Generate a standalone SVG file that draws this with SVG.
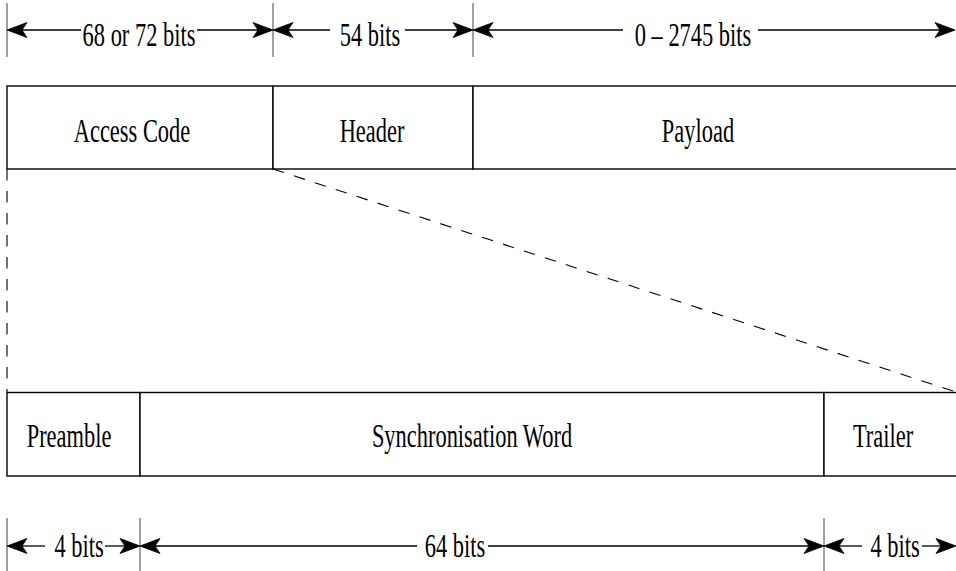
<svg xmlns="http://www.w3.org/2000/svg" width="956" height="571" viewBox="0 0 956 571">
<style>
.box{fill:#fff;stroke:#000;stroke-width:1.4}
.lbl{font-family:"Liberation Serif","Times New Roman",serif;font-size:33px;fill:#000;text-anchor:middle}
.dim{stroke:#000;stroke-width:1.3;fill:none}
.tick{stroke:#444;stroke-width:1}
.dash{stroke:#000;stroke-width:1.1;stroke-dasharray:11.5 10.5;fill:none}
.ah{fill:#000;stroke:#000;stroke-width:0.8;stroke-linejoin:miter}
</style>
<defs>
<path id="ahr" class="ah" d="M0,0 L-20,-7.5 L-15,0 L-20,7.5 Z"/>
<path id="ahl" class="ah" d="M0,0 L20,-7.5 L15,0 L20,7.5 Z"/>
</defs>
<g id="access-code">
<rect class="box" x="7" y="86" width="266" height="83"/>
<text class="lbl" transform="translate(132,142) scale(0.68,1)">Access Code</text>
</g>
<g id="header">
<rect class="box" x="273" y="86" width="200" height="83"/>
<text class="lbl" transform="translate(372,142) scale(0.68,1)">Header</text>
</g>
<g id="payload">
<rect class="box" x="473" y="86" width="500" height="83"/>
<text class="lbl" transform="translate(698,142) scale(0.68,1)">Payload</text>
</g>
<g id="preamble">
<rect class="box" x="7" y="392.5" width="133" height="83.5"/>
<text class="lbl" transform="translate(69,447) scale(0.68,1)">Preamble</text>
</g>
<g id="sync-word">
<rect class="box" x="140" y="392.5" width="684" height="83.5"/>
<text class="lbl" transform="translate(472,447) scale(0.68,1)">Synchronisation Word</text>
</g>
<g id="trailer">
<rect class="box" x="824" y="392.5" width="150" height="83.5"/>
<text class="lbl" transform="translate(883,447) scale(0.68,1)">Trailer</text>
</g>
<g id="connectors">
<path class="dash" d="M7,169 L7,392"/>
<path class="dash" d="M273,169 L956,392"/>
<line class="tick" x1="7" y1="3" x2="7" y2="57"/>
<line class="tick" x1="273" y1="3" x2="273" y2="57"/>
<line class="tick" x1="473" y1="3" x2="473" y2="57"/>
<line class="dim" x1="81" y1="30" x2="20" y2="30"/>
<line class="dim" x1="197" y1="30" x2="260" y2="30"/>
<line class="dim" x1="330" y1="30" x2="286" y2="30"/>
<line class="dim" x1="405" y1="30" x2="460" y2="30"/>
<line class="dim" x1="623" y1="30" x2="486" y2="30"/>
<line class="dim" x1="758" y1="30" x2="942" y2="30"/>
<use href="#ahl" x="7" y="30"/>
<use href="#ahr" x="273" y="30"/>
<use href="#ahl" x="273" y="30"/>
<use href="#ahr" x="473" y="30"/>
<use href="#ahl" x="473" y="30"/>
<use href="#ahr" x="955" y="30"/>
<line class="tick" x1="7" y1="518" x2="7" y2="571"/>
<line class="tick" x1="140" y1="518" x2="140" y2="571"/>
<line class="tick" x1="824" y1="518" x2="824" y2="571"/>
<line class="dim" x1="45" y1="546" x2="20" y2="546"/>
<line class="dim" x1="105" y1="546" x2="127" y2="546"/>
<line class="dim" x1="417" y1="546" x2="153" y2="546"/>
<line class="dim" x1="488" y1="546" x2="811" y2="546"/>
<line class="dim" x1="862" y1="546" x2="837" y2="546"/>
<line class="dim" x1="922" y1="546" x2="943" y2="546"/>
<use href="#ahl" x="7" y="546"/>
<use href="#ahr" x="140" y="546"/>
<use href="#ahl" x="140" y="546"/>
<use href="#ahr" x="824" y="546"/>
<use href="#ahl" x="824" y="546"/>
<use href="#ahr" x="956" y="546"/>
</g>
<g id="dimension-labels">
<text class="lbl" transform="translate(139,46) scale(0.68,1)">68 or 72 bits</text>
<text class="lbl" transform="translate(370,46) scale(0.68,1)">54 bits</text>
<text class="lbl" transform="translate(693,46) scale(0.68,1)">0 – 2745 bits</text>
<text class="lbl" transform="translate(79,557) scale(0.68,1)">4 bits</text>
<text class="lbl" transform="translate(455,557) scale(0.68,1)">64 bits</text>
<text class="lbl" transform="translate(895,557) scale(0.68,1)">4 bits</text>
</g>
</svg>
